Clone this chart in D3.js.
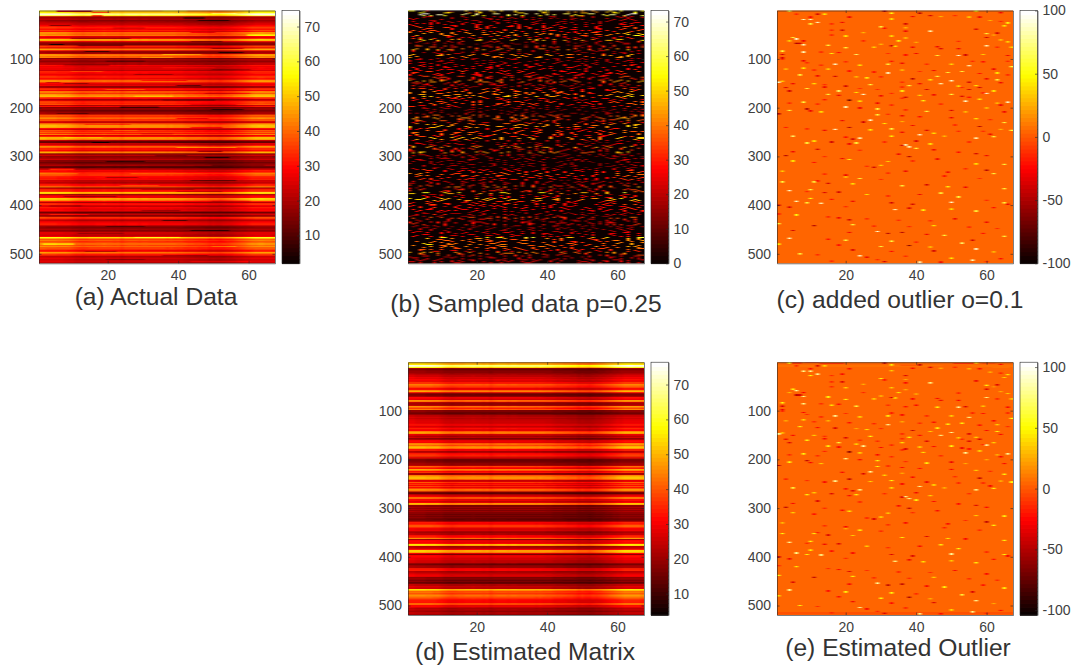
<!DOCTYPE html>
<html>
<head>
<meta charset="utf-8">
<script src="https://cdn.jsdelivr.net/npm/d3@7"></script>
<style>
  html, body { margin: 0; padding: 0; background: #fff; }
  svg { display: block; }
  text { font-family: "Liberation Sans", Arial, sans-serif; }
</style>
</head>
<body>
<script>
const nRows = 520;
const nCols = 67;

// estimated matrix, one level per 2 rows, read from the middle of panel (d)
const rowLevels = [
  48,48,50,66,64,54,19,15,17,18,18,20,22,24,24,27,26,29,28,26,34,30,40,40,36,38,30,27,30,46,
  44,27,17,15,16,19,29,28,26,42,40,22,19,19,22,42,38,34,40,17,17,15,14,17,22,22,25,22,25,24,
  27,24,27,26,31,28,24,28,32,28,28,40,44,42,26,24,21,24,17,20,28,29,28,40,42,38,
  44,46,42,30,31,21,21,30,33,32,36,23,30,17,15,15,16,17,19,19,22,38,33,30,44,40,30,33,19,20,
  40,44,46,46,40,25,26,37,30,34,28,36,28,33,42,42,38,17,14,13,26,25,29,42,38,27,29,25,28,46,
  44,17,17,20,17,20,17,20,17,17,15,17,15,17,15,14,15,19,31,30,30,36,37,36,28,27,26,28,
  19,20,22,22,30,31,33,42,19,28,29,28,31,50,48,21,22,24,30,48,48,44,27,17,28,29,28,26,27,25,
  24,25,23,14,15,20,19,20,31,30,31,21,22,24,26,27,26,17,18,17,15,17,13,15,22,22,25,24,24,50,
  46,38,40,36,38,42,42,38,38,33,32,30,31,30,40,38,28,29,25,21,22,21,19,22,22,19
];

// brightness of each column relative to the middle of the panel
const colFactor = [
  1.11,1.11,1.10,1.10,1.10,1.09,1.09,1.08,1.07,1.04,1.01,0.99,0.98,0.99,1.00,1.00,1.01,
  1.01,1.02,1.01,1.01,1.00,1.01,0.97,1.00,1.01,1.01,1.01,1.00,1.01,1.01,1.00,1.00,1.00,
  1.00,1.00,0.99,1.00,0.99,0.98,0.98,0.96,0.94,0.94,0.93,0.92,0.91,0.90,0.87,0.88,0.87,
  0.86,0.88,0.90,0.92,0.95,0.98,1.01,1.04,1.07,1.10,1.12,1.13,1.13,1.12,1.12,1.11
];

// actual data minus estimated level, per 4 rows
const actualShift = [
  1,0,0,2,2,-2,-2,-1,3,2,-2,0,3,-4,-1,3,2,-3,4,-3,
  3,-2,-2,4,-1,3,2,-2,3,1,-2,3,-3,3,0,-2,-3,2,3,-2,
  2,-2,-4,-3,3,-2,2,0,-2,-2,2,-3,-2,-3,2,-2,2,3,-3,-2,
  3,-3,2,3,-3,2,3,-2,-3,-3,2,3,-2,-3,3,-2,2,-2,-3,2,
  -3,3,-3,2,-2,2,2,3,-2,-2,-2,-4,2,2,-3,3,-2,-3,3,2,
  -3,2,2,-2,3,-3,3,-3,2,2,3,-2,2,3,2,-2,2,-3,-2,-2,
  -2,2,3,-3,2,3,-2,3,2,2
];

// dark or bright runs seen in panel (a): row from, row to, col from, col to, change
const actualStreaks = [
  [1,3,6,15,-30],[4,5,16,20,-14],[10,12,16,18,-20],[6,7,50,56,8],[1,2,36,42,6],[15,17,42,47,-8],
  [20,22,46,54,-8],[31,32,4,9,-12],[36,37,22,30,-8],[45,46,44,50,-9],[50,52,60,67,10],[58,59,10,26,-10],
  [64,65,44,52,-9],[70,71,4,7,-12],[72,74,12,24,-8],[78,79,50,58,-10],[84,85,14,20,-10],[86,88,52,58,-10],
  [90,91,36,46,8],[96,97,30,38,6],[104,105,20,30,-7],[112,114,8,20,-5],[118,119,36,50,5],[122,123,50,60,-7],
  [126,127,10,18,6],[132,133,28,38,-6],[144,145,30,42,-8],[148,149,3,6,-10],[150,151,8,14,-8],[154,155,40,46,-12],
  [162,163,20,30,6],[170,171,48,60,-6],[176,177,28,38,7],[184,186,36,50,-5],[194,195,44,56,-5],[198,200,24,34,-7],
  [204,205,50,58,-8],[212,213,6,14,-6],[222,223,40,48,-9],[234,236,14,26,-6],[240,241,44,52,-10],[246,247,22,28,6],
  [254,255,30,38,-7],[262,263,8,18,6],[272,273,16,20,-12],[282,283,40,56,9],[290,291,46,52,-12],[298,300,34,42,-6],
  [302,304,48,54,-10],[310,311,20,30,-8],[318,319,50,64,-6],[326,328,4,10,10],[336,337,12,26,-6],[344,345,20,28,-8],
  [350,351,44,56,-8],[360,361,24,34,6],[368,369,30,44,-6],[372,373,40,52,-6],[382,383,8,22,-8],[392,393,50,60,-7],
  [402,403,4,12,-8],[412,413,30,40,-8],[420,421,4,14,7],[432,433,36,42,-10],[444,445,20,30,-6],[452,453,44,54,-8],
  [458,459,12,24,-6],[466,468,28,40,6],[480,482,2,10,8],[486,487,50,56,6],[496,497,14,22,-7],[504,505,36,48,-7],
  [512,513,20,30,-5],[516,518,44,60,4]
];

// sampled columns, one line per 4 rows; each line is laid down twice at the two offsets below
const sampledCols = [
  [1,4,5,11,19,20,26,30,37,38,39,47,52,53,60,64,67],[2,8,13,14,22,27,33,34,41,49,50,55,61,66],
  [3,6,7,16,18,25,29,36,43,44,46,54,58,59,63],[1,9,10,15,21,28,31,32,40,42,48,51,57,62,65],
  [5,12,17,23,24,35,39,45,46,53,56,60,67,2,19],[4,8,14,18,26,27,34,37,44,50,58,63,64],
  [1,3,11,13,20,25,30,33,41,47,49,55,59,66,7],[6,10,16,22,29,36,38,42,43,52,54,61,65],
  [2,5,9,15,21,24,32,35,40,48,51,57,60,62,67],[4,7,12,19,23,28,31,39,45,46,56,58,64],
  [1,8,13,17,18,26,33,37,42,50,53,59,63,66,10],[3,6,11,20,27,30,34,41,44,47,55,61,65],
  [2,9,14,16,22,25,36,38,49,52,57,60,67,29],[5,7,15,21,31,32,40,43,48,51,54,62,64,19],
  [1,4,12,18,24,28,35,39,46,50,56,58,66,10],[3,8,11,17,23,26,33,37,42,45,53,59,63],
  [2,6,13,20,22,30,34,41,44,49,55,61,65,15],[5,9,16,19,27,31,36,40,47,52,57,60,67],
  [1,7,10,14,25,29,32,38,43,48,51,54,62,64,21],[4,11,18,24,28,35,37,46,50,56,58,63],
  [2,3,12,15,22,26,33,39,42,45,53,59,66,19],[6,8,17,20,27,30,41,44,49,52,61,65],
  [1,5,10,13,21,25,31,34,40,47,55,57,60,67,37],[4,9,14,16,23,29,36,38,46,51,54,64],
  [2,7,11,19,24,28,32,43,48,50,58,62,63,35],[3,6,15,18,26,33,39,42,45,53,56,59,66],
  [1,8,12,22,27,30,37,41,44,49,52,60,65,17],[5,10,14,20,25,34,36,47,51,55,61,64],
  [2,4,9,16,21,29,31,40,43,46,54,57,67,24],[7,13,18,23,28,35,38,42,50,58,62,63],
  [1,3,11,15,26,32,37,39,45,48,53,59,65,20],[6,8,12,19,22,30,34,41,44,52,56,60]
];

// where each 4-row line of panel (b) starts, two passes
const sampledOffsetsA = [
  0,37,12,51,23,60,5,44,29,8,55,18,40,63,2,33,47,14,26,58,9,41,21,53,35,3,49,16,61,27,
  11,38,56,6,31,45,20,64,13,42,1,52,25,36,59,7,48,17,30,62,10,39,54,22,4,46,34,15,57,28,
  43,19,65,24,50,32,6,41,13,60,27,2,47,37,18,55,9,30,63,21,44,11,52,35,0,58,16,39,25,49,
  5,33,61,14,42,20,56,8,29,46,1,36,53,23,12,64,31,17,48,3,59,26,40,10,51,34,7,45,22,62,
  15,38,54,28,4,43,19,57,32,66
];
const sampledOffsetsB = [
  19,50,3,31,44,10,62,25,38,15,57,6,28,47,35,12,59,22,41,1,53,33,8,46,17,64,26,39,4,55,
  30,13,48,21,60,36,2,43,24,9,56,18,34,51,11,61,29,40,5,49,23,37,14,58,32,45,7,63,20,42,
  27,54,16,35,3,52,10,44,25,59,6,38,19,31,62,12,48,28,55,1,41,22,34,9,50,17,60,36,4,46,
  13,57,24,43,8,30,52,15,39,63,21,47,2,33,56,11,26,58,18,37,6,49,29,42,14,61,23,35,53,9,
  44,20,5,60,27,47,12,38,55,1
];

// outliers: row, col, value
const outliers = [
  [1,4,60],[7,6,-15],[7,12,-40],[7,14,45],[1,31,-50],[5,33,50],[5,41,-50],[12,39,-30],[10,44,-40],[12,47,30],[10,51,-15],[1,57,45],[13,55,35],[13,58,-30],[4,64,-30],
  [13,21,-30],[13,10,-25],[18,8,85],[18,10,85],[24,12,90],[27,10,60],[27,16,-15],[24,19,-30],[17,33,40],[27,37,-40],[22,64,-15],[25,66,50],[20,61,30],[31,65,45],[35,37,30],
  [33,30,60],[36,31,-20],[42,37,-30],[40,16,-15],[40,19,-40],[45,25,30],[42,44,85],[38,57,-35],[47,60,60],[46,63,-40],[50,62,20],[55,5,60],[58,6,90],[62,4,35],[62,8,-30],
  [50,16,-15],[52,20,45],[62,25,-15],[52,33,40],[62,35,50],[56,37,30],[65,40,25],[63,52,-15],[55,60,-40],[60,64,30],[64,66,40],[67,7,-40],[70,8,85],[67,6,-50],[71,15,60],
  [76,20,60],[75,28,40],[69,30,30],[72,33,-40],[75,39,-30],[73,34,45],[74,46,-30],[78,52,-30],[78,47,-35],[72,60,85],[75,63,-15],[75,67,35],[83,2,60],[90,2,-40],[85,8,85],
  [85,13,-15],[88,16,50],[86,18,-25],[90,23,70],[91,37,-25],[88,32,-15],[88,40,-30],[92,46,60],[92,52,90],[91,54,-40],[90,59,40],[92,66,-30],[97,2,-35],[100,2,-15],[103,8,-30],
  [107,9,-15],[112,13,-15],[110,17,90],[105,20,-15],[104,33,-20],[110,32,60],[112,24,45],[108,36,-30],[110,43,-15],[113,55,85],[104,56,-15],[110,50,40],[105,59,-25],[104,66,-15],[115,67,60],
  [120,3,30],[118,8,45],[122,11,-15],[120,15,35],[124,21,-25],[126,28,-20],[128,32,90],[122,36,30],[125,41,-15],[123,45,-30],[127,49,60],[120,62,-30],[128,63,45],[125,53,60],[129,58,-25],
  [132,7,60],[134,12,-30],[136,23,30],[135,17,-40],[138,26,50],[136,30,-15],[140,39,-50],[142,44,45],[135,46,60],[144,50,90],[140,60,-30],[132,66,-15],[145,2,35],[147,1,90],[150,5,-30],
  [150,11,45],[152,14,-15],[155,20,-40],[152,27,60],[147,36,-15],[154,38,60],[150,41,-30],[150,47,85],[147,55,-40],[154,57,45],[142,63,60],[148,64,-30],[158,3,-35],[165,4,-40],[160,9,60],
  [157,14,-30],[165,18,70],[160,24,-15],[162,29,-15],[157,36,-15],[165,36,50],[162,43,-40],[155,52,40],[158,53,-15],[162,55,-40],[158,58,-40],[165,62,45],[169,59,-15],[172,15,60],[174,18,-30],
  [168,23,45],[172,25,90],[175,30,-30],[170,33,-15],[178,37,-40],[174,41,40],[173,45,-30],[172,50,60],[170,60,90],[176,53,-35],[178,55,-25],[182,58,45],[180,36,-15],[184,21,-70],[183,14,-20],
  [190,4,-15],[188,8,60],[192,12,-15],[186,24,45],[190,29,-30],[194,33,-15],[185,42,50],[192,47,-15],[186,54,90],[190,63,30],[194,64,-30],[188,66,90],[198,20,85],[200,24,-30],[202,29,60],
  [202,9,-50],[205,4,60],[206,10,-30],[208,13,45],[204,37,-15],[207,43,60],[205,50,-35],[208,54,30],[200,60,30],[208,65,-30],[212,1,-50],[214,29,60],[213,32,-15],[216,36,-30],[218,41,-25],
  [220,50,-30],[222,57,45],[224,61,-15],[226,19,-30],[225,27,90],[229,25,-40],[232,31,45],[228,36,30],[236,39,-30],[235,51,-15],[238,58,-50],[230,65,60],[240,3,-20],[243,9,-15],[246,14,-30],
  [244,17,90],[240,21,-50],[245,27,45],[243,33,60],[250,36,-30],[246,43,-35],[252,45,45],[248,52,-15],[248,59,-15],[254,61,-30],[244,64,30],[246,67,60],[258,5,70],[260,20,-25],[262,24,85],
  [264,22,-40],[258,33,45],[255,41,90],[258,48,30],[262,57,85],[259,62,60],[268,11,45],[272,9,60],[270,16,-40],[274,21,-30],[272,23,60],[270,31,-15],[276,37,85],[268,40,-35],[274,44,45],[270,55,-15],
  [277,36,-40],[280,38,85],[283,40,60],[286,45,-30],[285,12,-40],[287,24,-15],[290,5,-30],[298,3,-50],[295,35,-30],[291,52,-25],[294,57,-40],[298,60,-30],[300,14,-15],[304,19,-30],[300,38,-50],
  [306,21,50],[309,39,-15],[305,46,-30],[309,5,45],[312,11,-25],[310,32,40],[315,57,45],[316,65,60],[318,30,40],[320,26,-15],[322,28,-40],[325,54,-15],[330,2,35],[334,32,-15],[330,37,-30],
  [332,49,-30],[328,60,-50],[335,62,60],[336,14,-15],[338,20,-30],[340,48,-20],[342,20,30],[345,24,60],[347,30,-15],[345,58,-15],[350,12,-20],[352,2,60],[352,11,60],[355,15,-40],[356,22,45],
  [360,36,60],[358,43,-40],[362,49,50],[363,54,-30],[366,65,60],[368,10,60],[370,4,90],[372,9,-15],[374,14,-35],[373,18,-40],[378,26,45],[381,32,-15],[378,41,-30],[375,47,60],[383,52,60],
  [386,10,50],[388,16,-25],[392,6,85],[395,9,60],[396,13,85],[392,22,-30],[395,33,-40],[398,39,-40],[394,50,90],[390,60,-15],[395,65,60],[398,66,-30],[400,1,-40],[404,4,-35],[403,20,-15],
  [409,34,85],[406,38,-35],[410,42,50],[408,50,40],[412,57,60],[405,62,-25],[418,1,-15],[420,6,50],[424,15,-15],[426,18,-30],[430,21,-40],[428,26,-15],[431,35,-15],[432,44,-15],[428,51,-30],
  [435,60,-30],[438,1,60],[442,11,-50],[440,22,60],[443,28,-15],[444,38,-15],[442,45,45],[445,55,-15],[448,63,-15],[452,5,-40],[456,21,-30],[454,29,90],[458,32,-50],[456,36,-50],[460,43,-30],
  [462,48,60],[458,59,-25],[464,65,60],[468,4,85],[470,15,-25],[472,20,60],[474,33,60],[476,40,-15],[478,53,70],[472,56,-40],[480,1,45],[482,18,-25],[485,30,60],[483,38,-60],[486,44,30],
  [492,22,-35],[495,33,-25],[494,45,-40],[490,57,90],[496,62,30],[500,7,60],[502,12,-15],[504,24,90],[507,26,-30],[505,37,-15],[509,50,45],[512,29,-15],[513,56,85],[510,64,-25],[515,16,-15],
  [516,31,-40],[517,41,85],[517,47,-30],[516,60,-15]
];

// red runs at the top of the estimated outlier panel: row from, row to, col from, col to, change
const estimatedStreaks = [
  [1,3,5,7,-15],[2,4,13,19,-18],[1,2,9,12,-12],[3,4,51,57,-18],[2,3,59,62,-10],[6,7,36,40,-8],[515,519,1,67,-8]
];

const outlierBase = 5;

const captions = ["(a) Actual Data","(b) Sampled data p=0.25","(c) added outlier o=0.1","(d) Estimated Matrix","(e) Estimated Outlier"];
const colorDomains = [[2,74.6],[0,73.2],[-100,100],[3.9,76.4],[-104,104]];
const colorTicks = [
  [10,20,30,40,50,60,70],[0,10,20,30,40,50,60,70],[-100,-50,0,50,100],
  [10,20,30,40,50,60,70],[-100,-50,0,50,100]
];
const xTicks = [20,40,60];
const yTicks = [100,200,300,400,500];

const W = 1074, H = 669;
const plotW = 236, plotH = 252.8, cbW = 17.5;
const panelX = [39, 408, 777, 408, 777];
const panelY = [10.5, 10.5, 10.5, 362.2, 362.2];
const captionX = [156, 526, 900, 525, 898];
const captionY = [305, 312, 308, 660, 656];
const axisColor = "#262626", textColor = "#404040";

// MATLAB hot with 64 levels
const hotRamp = d3.scaleLinear()
  .domain([0, 0.375, 0.75, 1])
  .range(["#0b0000", "#ff0000", "#ffff00", "#ffffff"])
  .clamp(true);
const levels = d3.range(64);
const hotLevel = t => hotRamp(Math.min(63, Math.floor(t * 64)) / 63);

const estimatedValue = (r, c) => rowLevels[Math.floor(r / 2)] * colFactor[c];

function actualValue(r, c) {
  let v = estimatedValue(r, c) + actualShift[Math.floor(r / 4)];
  for (let s of actualStreaks) {
    if (r + 1 >= s[0] && r + 1 <= s[1] && c + 1 >= s[2] && c + 1 <= s[3]) v += s[4];
  }
  return v;
}

function sampledMatrix() {
  let m = d3.range(nRows).map(() => new Array(nCols).fill(0));
  d3.range(130).forEach(i => {
    let cols = sampledCols[i % sampledCols.length];
    [sampledOffsetsA[i], sampledOffsetsB[i]].forEach((offset, pass) => {
      cols.forEach((c, k) => {
        let col = (c + offset) % nCols;
        let r0 = i * 4 + ((k + pass) % 2 === 0 ? 0 : 2);
        for (let r = r0; r < Math.min(nRows, r0 + 2); r++) m[r][col] = actualValue(r, col);
      });
    });
  });
  return m;
}

function outlierMatrix(tinted) {
  let m = d3.range(nRows).map(r => d3.range(nCols).map(c =>
    tinted ? outlierBase + (estimatedValue(r, c) - 30) * 0.05 : outlierBase));
  if (tinted) {
    for (let s of estimatedStreaks) {
      for (let r = s[0] - 1; r < s[1]; r++) for (let c = s[2] - 1; c < s[3]; c++) m[r][c] = outlierBase + s[4];
    }
  }
  for (let o of outliers) {
    let v = tinted ? o[2] * 0.92 : o[2];
    for (let r = o[0] - 1; r < Math.min(nRows, o[0] + 2); r++) m[r][o[1] - 1] = v;
  }
  return m;
}

const matrices = [
  d3.range(nRows).map(r => d3.range(nCols).map(c => actualValue(r, c))),
  sampledMatrix(),
  outlierMatrix(false),
  d3.range(nRows).map(r => d3.range(nCols).map(c => estimatedValue(r, c))),
  outlierMatrix(true)
];

// paint a matrix at cell resolution, the browser scales it down into the plot
function matrixToUrl(matrix, colorOf) {
  let canvas = document.createElement("canvas");
  canvas.width = nCols;
  canvas.height = nRows;
  let ctx = canvas.getContext("2d");
  let img = ctx.createImageData(nCols, nRows);
  matrix.forEach((row, r) => row.forEach((v, c) => {
    let col = d3.rgb(colorOf(v));
    let p = (r * nCols + c) * 4;
    img.data[p] = col.r;
    img.data[p + 1] = col.g;
    img.data[p + 2] = col.b;
    img.data[p + 3] = 255;
  }));
  ctx.putImageData(img, 0, 0);
  return canvas.toDataURL();
}

const svg = d3.select("body").append("svg").attr("width", W).attr("height", H);

captions.forEach((caption, p) => {
  let g = svg.append("g").attr("transform", `translate(${panelX[p]},${panelY[p]})`);
  let x = d3.scaleLinear().domain([0.5, nCols + 0.5]).range([0, plotW]);
  let y = d3.scaleLinear().domain([0.5, nRows - 0.5]).range([0, plotH]);
  let t = d3.scaleLinear().domain(colorDomains[p]).range([0, 1]).clamp(true);

  g.append("image")
    .attr("href", matrixToUrl(matrices[p], v => hotLevel(t(v))))
    .attr("x", 0).attr("y", 0)
    .attr("width", plotW).attr("height", plotH)
    .attr("preserveAspectRatio", "none");

  let styleAxis = a => {
    a.selectAll("path,line").attr("stroke", axisColor).attr("stroke-width", 0.6);
    a.selectAll("text").attr("fill", textColor).attr("font-size", 14)
      .attr("font-family", '"Liberation Sans", Arial, sans-serif');
  };
  g.append("g").attr("transform", `translate(0,${plotH})`)
    .call(d3.axisBottom(x).tickValues(xTicks).tickSize(-2.5).tickSizeOuter(0).tickPadding(7)).call(styleAxis);
  g.append("g")
    .call(d3.axisTop(x).tickValues(xTicks).tickSize(-2.5).tickSizeOuter(0).tickFormat("")).call(styleAxis);
  g.append("g")
    .call(d3.axisLeft(y).tickValues(yTicks).tickSize(-2.5).tickSizeOuter(0).tickPadding(6)).call(styleAxis);
  g.append("g").attr("transform", `translate(${plotW},0)`)
    .call(d3.axisRight(y).tickValues(yTicks).tickSize(-2.5).tickSizeOuter(0).tickFormat("")).call(styleAxis);

  // colorbar
  let cb = g.append("g").attr("transform", `translate(${plotW + 7},0)`);
  let level = d3.scaleBand().domain(levels).range([plotH, 0]);
  cb.selectAll("rect.level").data(levels).join("rect")
    .attr("class", "level")
    .attr("x", 0).attr("width", cbW)
    .attr("y", d => level(d)).attr("height", level.bandwidth() + 0.8)
    .attr("fill", d => hotRamp(d / 63));
  cb.append("rect").attr("width", cbW).attr("height", plotH)
    .attr("fill", "none").attr("stroke", axisColor).attr("stroke-width", 0.6);
  let cbScale = d3.scaleLinear().domain(colorDomains[p]).range([plotH, 0]);
  cb.append("g").attr("transform", `translate(${cbW},0)`)
    .call(d3.axisRight(cbScale).tickValues(colorTicks[p]).tickFormat(d => String(d)).tickSize(-2.5).tickSizeOuter(0).tickPadding(5))
    .call(styleAxis);

  svg.append("text")
    .attr("x", captionX[p]).attr("y", captionY[p])
    .attr("text-anchor", "middle")
    .attr("font-size", 24.6)
    .attr("fill", "#333333")
    .text(caption);
});
</script>
</body>
</html>
